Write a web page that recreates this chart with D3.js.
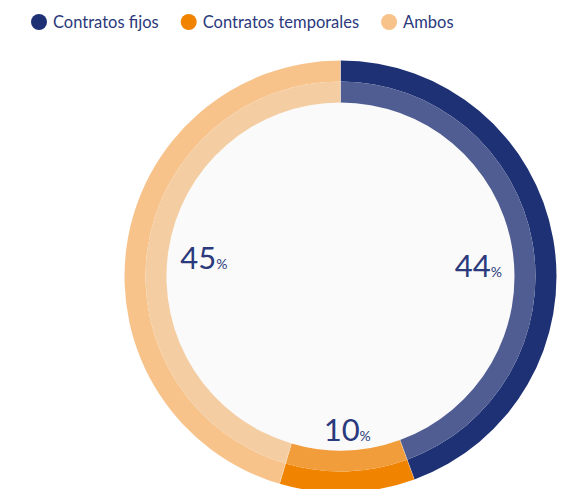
<!DOCTYPE html>
<html><head><meta charset="utf-8">
<script src="https://cdn.jsdelivr.net/npm/d3@7"></script>
<style>html,body{margin:0;padding:0;background:#fff;}svg{display:block;}</style>
</head><body>
<svg id="chart" width="563" height="489"></svg>
<script>
const categories = ["Contratos fijos", "Contratos temporales", "Ambos"];
const values = [44, 10, 45];
const outerColors = ["#1e3175", "#f08300", "#f7c38b"];
const innerColors = ["#505d93", "#f19d3b", "#f4cea2"];
const labelNudge = [[0, 14], [2, 4], [2, 1]];

const svg = d3.select("#chart");
const textColor = "#2b3a7c";
const font = "Lato, 'Open Sans', sans-serif";

const cx = 340.5, cy = 276.5;
const rOuter = 216, rMid = 195, rInner = 174;

const g = svg.append("g").attr("transform", `translate(${cx},${cy})`);

g.append("circle").attr("r", rInner).attr("fill", "#fafafa");

const pie = d3.pie().sort(null).value(d => d);
const arcs = pie(values);
const arcOuter = d3.arc().innerRadius(rMid).outerRadius(rOuter);
const arcInner = d3.arc().innerRadius(rInner).outerRadius(rMid);

g.selectAll("path.outer").data(arcs).join("path")
  .attr("class", "outer").attr("d", arcOuter)
  .attr("fill", (d, i) => outerColors[i]);
g.selectAll("path.inner").data(arcs).join("path")
  .attr("class", "inner").attr("d", arcInner)
  .attr("fill", (d, i) => innerColors[i]);

// subtle separators
g.selectAll("line.sep").data(arcs).join("line")
  .attr("class", "sep")
  .attr("x1", d => rInner * Math.sin(d.startAngle))
  .attr("y1", d => -rInner * Math.cos(d.startAngle))
  .attr("x2", d => rOuter * Math.sin(d.startAngle))
  .attr("y2", d => -rOuter * Math.cos(d.startAngle))
  .attr("stroke", "rgba(255,255,255,0.3)").attr("stroke-width", 1);

const labelArc = d3.arc().innerRadius(140).outerRadius(140);
const labels = g.selectAll("text.val").data(arcs).join("text")
  .attr("class", "val")
  .attr("transform", (d, i) => {
    const c = labelArc.centroid(d);
    const r = i === 1 ? 1.07 : 1;
    return `translate(${c[0] * r + labelNudge[i][0]},${c[1] * r + labelNudge[i][1]})`;
  })
  .attr("text-anchor", "middle")
  .attr("fill", textColor)
  .attr("font-family", font);
labels.append("tspan").attr("font-size", 31).attr("dy", "0.36em").text(d => d.data);
labels.append("tspan").attr("font-size", 14).text("%");

// legend
const legend = svg.append("g").attr("transform", "translate(39,22)");
let x = 0;
categories.forEach((c, i) => {
  const item = legend.append("g").attr("transform", `translate(${x},0)`);
  item.append("circle").attr("r", 8).attr("fill", outerColors[i]);
  const t = item.append("text").attr("x", 14).attr("y", 0).attr("dy", "0.35em")
    .attr("font-family", font).attr("font-size", 16.5).attr("fill", textColor).text(c);
  const w = t.node().getComputedTextLength();
  x += 14 + w + 30;
});
</script>
</body></html>
